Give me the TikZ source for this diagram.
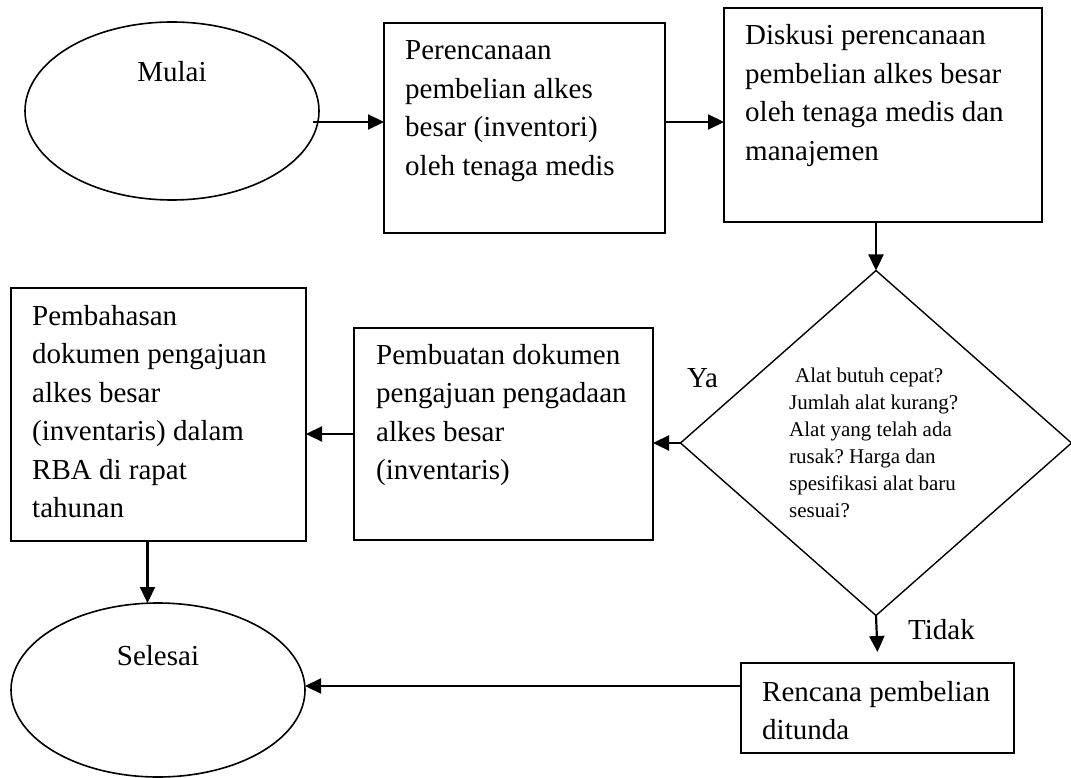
\documentclass[tikz,border=0pt]{standalone}
\usepackage{fontspec}
\setmainfont{Liberation Serif}
\usetikzlibrary{shapes.geometric,arrows.meta}
\frenchspacing

\tikzset{
  stepbox/.style={draw, line width=1.8pt, rectangle, inner sep=0pt, outer sep=0pt},
  terminal/.style={draw, line width=1.6pt, ellipse, inner sep=0pt, outer sep=0pt},
  decision/.style={draw, line width=1.4pt, diamond, inner sep=0pt, outer sep=0pt},
  arr/.style={line width=2.2pt, -{Triangle[length=16pt,width=15pt]}},
  boxtext/.style={anchor=base west, inner sep=0pt},
  label/.style={inner sep=0pt, font=\fontsize{29}{34}\selectfont}
}
% multi-line text block whose baseline is the first line
\newcommand{\flowtext}[1]{\parbox[t]{420pt}{\fontsize{29}{38.5}\selectfont #1}}
\newcommand{\asktext}[1]{\parbox[t]{300pt}{\fontsize{21}{27}\selectfont #1}}

\begin{document}
\begin{tikzpicture}[x=1pt,y=-1pt]
  \useasboundingbox (0,0) rectangle (1071,778);

  % shapes
  \node[terminal, minimum width=294pt, minimum height=178pt] (mulai) at (172,111) {};
  \node[stepbox, minimum width=281pt, minimum height=210pt] (plan) at (524.5,128) {};
  \node[stepbox, minimum width=318pt, minimum height=214pt] (diskusi) at (883,115) {};
  \node[decision, minimum width=391pt, minimum height=345pt] (cek) at (876,443) {};
  \node[stepbox, minimum width=299pt, minimum height=212pt] (dokumen) at (503.5,434) {};
  \node[stepbox, minimum width=295pt, minimum height=253pt] (bahas) at (158.5,414.5) {};
  \node[terminal, minimum width=294pt, minimum height=174pt] (selesai) at (158,690) {};
  \node[stepbox, minimum width=273pt, minimum height=90pt] (tunda) at (877.5,708) {};

  % texts
  \node[label, anchor=base] (tmulai) at (172,82) {Mulai};
  \node[label, anchor=base] (tselesai) at (158,665) {Selesai};
  \node[boxtext] (tplan) at ([shift={(21,37)}]plan.north west)
    {\flowtext{Perencanaan\\pembelian alkes\\besar (inventori)\\oleh tenaga medis}};
  \node[boxtext] (tdiskusi) at ([shift={(21,37)}]diskusi.north west)
    {\flowtext{Diskusi perencanaan\\pembelian alkes besar\\oleh tenaga medis dan\\manajemen}};
  \node[boxtext] (tdokumen) at ([shift={(22,36)}]dokumen.north west)
    {\flowtext{Pembuatan dokumen\\pengajuan pengadaan\\alkes besar\\(inventaris)}};
  \node[boxtext] (tbahas) at ([shift={(21,37)}]bahas.north west)
    {\flowtext{Pembahasan\\dokumen pengajuan\\alkes besar\\(inventaris) dalam\\RBA di rapat\\tahunan}};
  \node[boxtext] (ttunda) at ([shift={(21,38)}]tunda.north west)
    {\flowtext{Rencana pembelian\\ditunda}};
  \node[boxtext] (tcek) at (789,382)
    {\asktext{\hspace*{6pt}Alat butuh cepat?\\Jumlah alat kurang?\\Alat yang telah ada\\rusak? Harga dan\\spesifikasi alat baru\\sesuai?}};
  \node[label, anchor=base west] (ya) at (687,387) {Ya};
  \node[label, anchor=base west] (tidak) at (908,639) {Tidak};

  % connectors
  \coordinate (a1) at ([xshift=-6pt,yshift=-11pt]mulai.east);
  \draw[arr] (a1) -- (a1 -| plan.west);
  \draw[arr] (a1 -| plan.east) -- (a1 -| diskusi.west);
  \draw[arr] (diskusi.south -| cek.north) -- (cek.north);
  \draw[arr] (cek.west) -- (cek.west -| dokumen.east);
  \draw[arr] (dokumen.west) -- (dokumen.west -| bahas.east);
  \coordinate (b1) at ([xshift=-11pt]bahas.south);
  \draw[arr] (b1) -- (b1 |- selesai.north);
  \draw[arr] (cek.south) -- ([yshift=11pt]tunda.north);
  \coordinate (c1) at ([yshift=4pt]selesai.east);
  \draw[arr] (c1 -| tunda.west) -- (c1);
\end{tikzpicture}
\end{document}
